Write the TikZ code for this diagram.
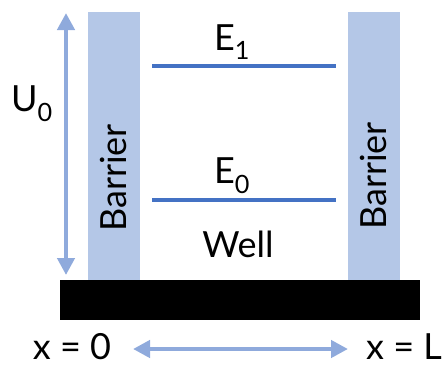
\documentclass[tikz,border=0pt]{standalone}
\usepackage{fontspec}
\setmainfont{Lato}
\usetikzlibrary{arrows.meta}
\definecolor{barrierblue}{HTML}{B4C7E7}
\definecolor{levelblue}{HTML}{4472C4}
\definecolor{arrowblue}{HTML}{8FAADC}
\tikzset{
  barrier/.style={fill=barrierblue, draw=none},
  level/.style={levelblue, line width=4pt},
  span/.style={draw=arrowblue, fill=arrowblue, line width=4.5pt,
    >={Triangle[length=17pt,width=17pt]}, <->},
  lbl/.style={font=\fontsize{36}{40}\selectfont, inner sep=0pt}
}
\begin{document}
\begin{tikzpicture}[x=1pt,y=-1pt]
\useasboundingbox (0,0) rectangle (445,368);
% barriers and base
\fill[barrier] (88,12) rectangle (140,280);
\fill[barrier] (348,12) rectangle (400,280);
\fill[black] (60,280) rectangle (420,320);
\node[lbl, rotate=90] (lbar) at (114,178) {Barrier};
\node[lbl, rotate=90] (rbar) at (374,176) {Barrier};
% energy levels
\coordinate (e1l) at (152,66);
\coordinate (e1r) at (336,66);
\coordinate (e0l) at (152,200);
\coordinate (e0r) at (336,200);
\draw[level] (e1l) -- (e1r);
\draw[level] (e0l) -- (e0r);
\node[lbl] (E1) at (232,42) {E\textsubscript{1}};
\node[lbl] (E0) at (232,176) {E\textsubscript{0}};
\node[lbl] (well) at (238,244) {Well};
% depth of the well
\coordinate (utop) at (66,13);
\coordinate (ubot) at (66,275);
\draw[span] (utop) -- (ubot);
\node[lbl] (U0) at (32,104) {U\textsubscript{0}};
% width of the well
\node[lbl] (x0) at (72,347) {x = 0};
\node[lbl] (xL) at (404,347) {x = L};
\coordinate (al) at (133,349);
\coordinate (ar) at (348,349);
\draw[span] (al) -- (ar);
\end{tikzpicture}
\end{document}
